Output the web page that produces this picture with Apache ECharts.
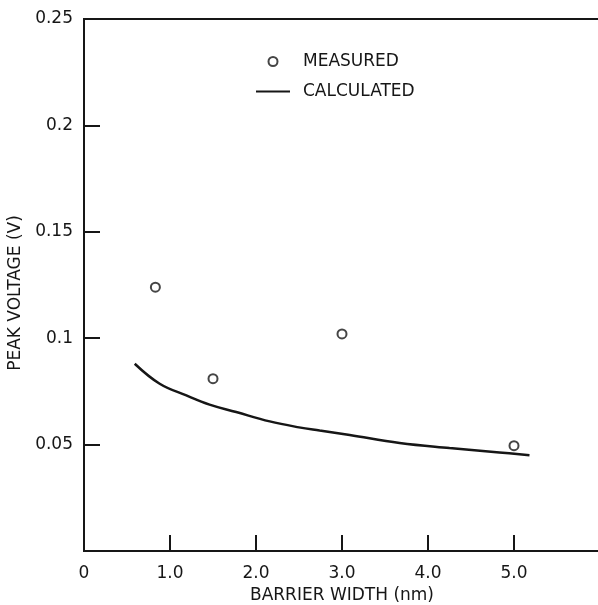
<!DOCTYPE html>
<html>
<head>
<meta charset="utf-8">
<script src="https://cdn.jsdelivr.net/npm/echarts@6/dist/echarts.min.js"></script>
<style>
html,body{margin:0;padding:0;background:#fff;}
#chart{width:598px;height:605px;}
</style>
</head>
<body>
<div id="chart"></div>
<script>
// Measured points: [barrier width (nm), peak voltage (V)]
const measuredX = [0.83, 1.5, 3.0, 5.0];
const measuredY = [0.124, 0.081, 0.102, 0.0495];
// Calculated curve
const calcX = [0.59, 0.88, 1.19, 1.46, 1.77, 2.16, 2.50, 2.74, 3.09, 3.67, 4.25, 4.83, 5.18];
const calcY = [0.0880, 0.0786, 0.0731, 0.0688, 0.0653, 0.0609, 0.0581, 0.0566, 0.0545, 0.0508, 0.0484, 0.0463, 0.0450];
// Tick labels
const xTickLabels = ['0', '1.0', '2.0', '3.0', '4.0', '5.0', ''];
const yTickLabels = ['', '0.05', '0.1', '0.15', '0.2', '0.25'];
const seriesNames = ['MEASURED', 'CALCULATED'];

const ink = '#161616';
const font = 'DejaVu Sans';

const chart = echarts.init(document.getElementById('chart'), null, {renderer: 'canvas'});
chart.setOption({
  animation: false,
  backgroundColor: '#fff',
  grid: {
    left: 84, top: 19, width: 516, height: 532,
    outerBoundsMode: 'none', containLabel: false,
    show: true, borderColor: ink, borderWidth: 2, backgroundColor: 'transparent'
  },
  legend: {
    orient: 'vertical',
    left: 255, top: 53, padding: 0,
    itemWidth: 34, itemHeight: 9, itemGap: 13,
    data: [
      {name: seriesNames[0], icon: 'emptyCircle'},
      {name: seriesNames[1], itemStyle: {opacity: 0}, lineStyle: {color: ink, width: 2}}
    ],
    textStyle: {fontFamily: font, fontSize: 17, color: ink, padding: [0, 0, 0, 8]}
  },
  xAxis: {
    type: 'value', min: 0, max: 6, interval: 1,
    name: 'BARRIER WIDTH (nm)', nameLocation: 'middle', nameGap: 29,
    nameTextStyle: {fontFamily: font, fontSize: 17, color: ink},
    axisLine: {lineStyle: {color: ink, width: 2}},
    axisTick: {inside: true, length: 16, lineStyle: {color: ink, width: 2}},
    axisLabel: {
      margin: 14, fontFamily: font, fontSize: 17, color: ink,
      formatter: v => xTickLabels[Math.round(v)] || ''
    },
    splitLine: {show: false}
  },
  yAxis: {
    type: 'value', min: 0, max: 0.25, interval: 0.05,
    name: 'PEAK VOLTAGE (V)', nameLocation: 'middle', nameGap: 55,
    nameTextStyle: {fontFamily: font, fontSize: 17, color: ink, padding: [0, 16, 0, 0]},
    axisLine: {lineStyle: {color: ink, width: 2}},
    axisTick: {inside: true, length: 16, lineStyle: {color: ink, width: 2}},
    axisLabel: {
      margin: 11, fontFamily: font, fontSize: 17, color: ink,
      formatter: v => yTickLabels[Math.round(v / 0.05)] || ''
    },
    splitLine: {show: false}
  },
  series: [
    {
      name: seriesNames[0], type: 'scatter',
      symbol: 'emptyCircle', symbolSize: 9,
      itemStyle: {color: ink, borderColor: ink, borderWidth: 1.5},
      data: measuredX.map((x, i) => [x, measuredY[i]])
    },
    {
      name: seriesNames[1], type: 'line', smooth: 0.4, showSymbol: false,
      symbol: 'none',
      lineStyle: {color: ink, width: 2.5},
      itemStyle: {color: ink},
      data: calcX.map((x, i) => [x, calcY[i]])
    }
  ]
});
</script>
</body>
</html>
